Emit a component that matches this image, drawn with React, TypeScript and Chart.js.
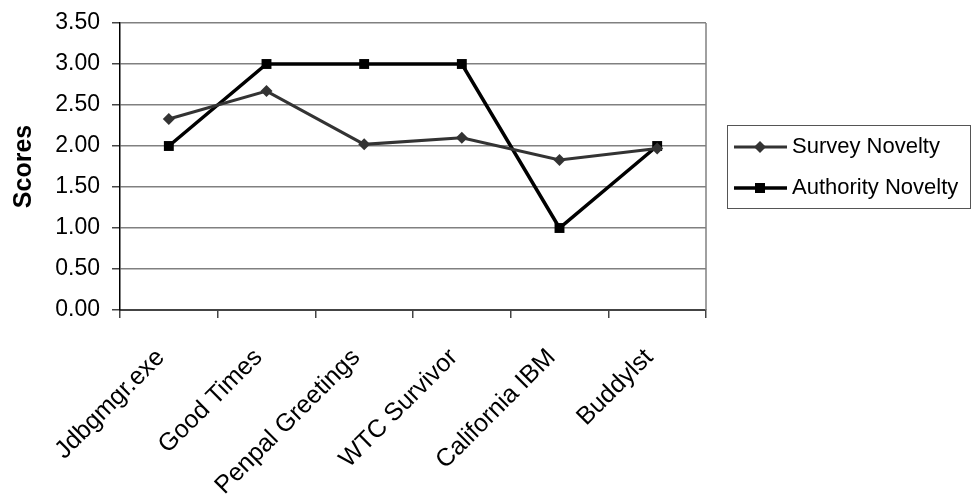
import React, { useEffect, useRef } from "react";
import { Chart, registerables } from "chart.js";

Chart.register(...registerables);

const categories = [
  "Jdbgmgr.exe",
  "Good Times",
  "Penpal Greetings",
  "WTC Survivor",
  "California IBM",
  "Buddylst",
];
const surveyNovelty = [2.33, 2.67, 2.02, 2.1, 1.83, 1.97];
const authorityNovelty = [2, 3, 3, 3, 1, 2];
const seriesNames = ["Survey Novelty", "Authority Novelty"];
const yTickStep = 0.5;
const yMax = 3.5;

const FONT = "'Liberation Sans', Arial, sans-serif";
const SURVEY_COLOR = "#333333";
const AUTHORITY_COLOR = "#000000";

// Excel-style legend: a framed box with line-and-marker samples
const boxedLegend = {
  id: "boxedLegend",
  afterDraw(chart: any) {
    const ctx = chart.ctx;
    const x = 727;
    const y = 125;
    const w = 243;
    const h = 83;
    ctx.save();
    ctx.fillStyle = "#ffffff";
    ctx.fillRect(x, y, w, h);
    ctx.strokeStyle = "#555555";
    ctx.lineWidth = 1;
    ctx.strokeRect(x + 0.5, y + 0.5, w, h);
    const rows = [
      { label: seriesNames[0], color: SURVEY_COLOR, width: 3, marker: "diamond" },
      { label: seriesNames[1], color: AUTHORITY_COLOR, width: 3.5, marker: "square" },
    ];
    rows.forEach((r, i) => {
      const cy = y + 22 + i * 41;
      ctx.strokeStyle = r.color;
      ctx.lineWidth = r.width;
      ctx.beginPath();
      ctx.moveTo(734, cy);
      ctx.lineTo(787, cy);
      ctx.stroke();
      ctx.fillStyle = r.color;
      const mx = 760;
      if (r.marker === "diamond") {
        ctx.beginPath();
        ctx.moveTo(mx, cy - 6);
        ctx.lineTo(mx + 6, cy);
        ctx.lineTo(mx, cy + 6);
        ctx.lineTo(mx - 6, cy);
        ctx.closePath();
        ctx.fill();
      } else {
        ctx.fillRect(mx - 5, cy - 5, 10, 10);
      }
      ctx.fillStyle = "#000000";
      ctx.font = `22px ${FONT}`;
      ctx.textAlign = "left";
      ctx.textBaseline = "middle";
      ctx.fillText(r.label, 792, cy);
    });
    ctx.restore();
  },
};

// Plot-area frame on the right side
const plotFrame = {
  id: "plotFrame",
  beforeDatasetsDraw(chart: any) {
    const { ctx, chartArea } = chart;
    ctx.save();
    ctx.strokeStyle = "#808080";
    ctx.lineWidth = 1.5;
    ctx.beginPath();
    ctx.moveTo(chartArea.right, chartArea.top);
    ctx.lineTo(chartArea.right, chartArea.bottom);
    ctx.stroke();
    ctx.restore();
  },
};

export default function App() {
  const canvasRef = useRef<HTMLCanvasElement | null>(null);

  useEffect(() => {
    if (!canvasRef.current) return;
    const chart = new Chart(canvasRef.current, {
      type: "line",
      data: {
        labels: categories,
        datasets: [
          {
            label: seriesNames[0],
            data: surveyNovelty,
            borderColor: SURVEY_COLOR,
            backgroundColor: SURVEY_COLOR,
            borderWidth: 3,
            pointStyle: "rectRot",
            pointRadius: 6,
            pointBorderWidth: 0,
            tension: 0,
          },
          {
            label: seriesNames[1],
            data: authorityNovelty,
            borderColor: AUTHORITY_COLOR,
            backgroundColor: AUTHORITY_COLOR,
            borderWidth: 3.5,
            pointStyle: "rect",
            pointRadius: 7,
            pointBorderWidth: 0,
            tension: 0,
          },
        ],
      },
      options: {
        responsive: false,
        animation: false,
        layout: { padding: { top: 23, right: 268, left: 0, bottom: 0 } },
        plugins: {
          legend: { display: false },
          tooltip: { enabled: false },
        },
        scales: {
          x: {
            type: "category",
            offset: true,
            afterFit(scale: any) {
              scale.height = 184;
            },
            grid: {
              offset: true,
              drawOnChartArea: false,
              drawTicks: true,
              tickLength: 8,
              tickColor: "#444444",
              lineWidth: 1.5,
            },
            border: { color: "#444444", width: 2 },
            ticks: {
              color: "#000000",
              font: { family: FONT, size: 25 },
              minRotation: 45,
              maxRotation: 45,
              autoSkip: false,
              padding: 25,
              labelOffset: -8,
            },
          },
          y: {
            min: 0,
            max: yMax,
            afterFit(scale: any) {
              scale.width = 120;
              scale.paddingTop = 10;
              scale.paddingBottom = 10;
            },
            grid: {
              color: "#808080",
              lineWidth: 1.5,
              tickLength: 8,
              tickColor: "#444444",
            },
            border: { color: "#000000", width: 1.5 },
            ticks: {
              stepSize: yTickStep,
              color: "#000000",
              font: { family: FONT, size: 23 },
              padding: 12,
              callback: (v: any) => Number(v).toFixed(2),
            },
            title: {
              display: true,
              text: "Scores",
              color: "#000000",
              font: { family: FONT, size: 25, weight: "bold" },
              padding: { top: 9, bottom: 6 },
            },
          },
        },
      },
      plugins: [plotFrame, boxedLegend],
    });
    return () => chart.destroy();
  }, []);

  return (
    <div
      style={{
        position: "fixed",
        left: 0,
        top: 0,
        width: 974,
        height: 494,
        background: "#ffffff",
      }}
    >
      <canvas
        ref={canvasRef}
        width={974}
        height={494}
        style={{ display: "block", width: 974, height: 494 }}
      />
    </div>
  );
}
